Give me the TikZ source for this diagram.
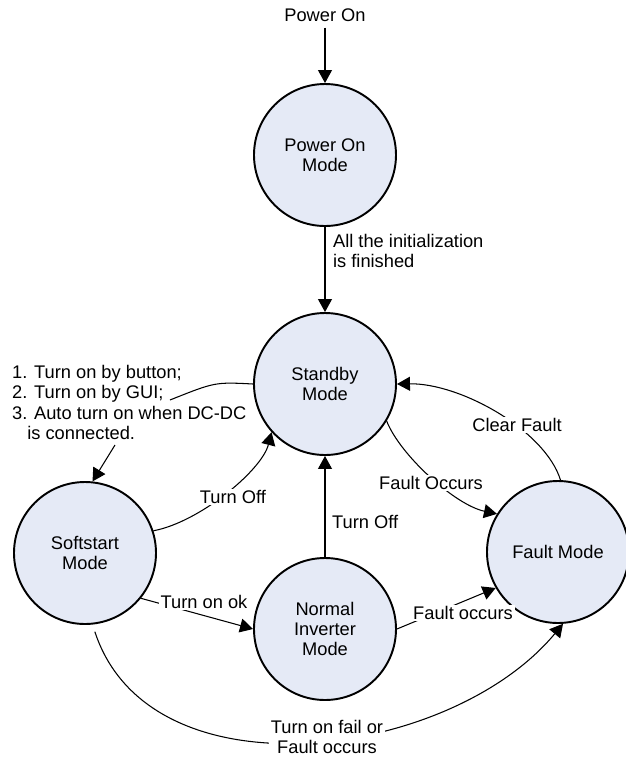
\documentclass[tikz,border=0pt]{standalone}
\usepackage{fontspec}
\setmainfont{Liberation Sans}
\usetikzlibrary{arrows.meta}
\definecolor{modefill}{RGB}{229,234,246}

\begin{document}
\begin{tikzpicture}[align=center, font=\fontsize{10.4}{11.5}\selectfont,
    >={Triangle[length=2.6mm,width=2.8mm]},
    mode/.style={draw, circle, line width=1.1pt, fill=modefill, minimum size=2.84cm, inner sep=0},
    trans/.style={->, line width=0.6pt},
    lbl/.style={fill=white, inner sep=1pt},
    note/.style={inner sep=1pt, align=left}]
      \useasboundingbox (0,0) rectangle (12.52,-15.14);

      \node (pwron) at (6.5,-0.3) {Power On};
      \node[mode] (PO) at (6.5,-3.1) {Power On\\ Mode};
      \node[mode] (SB) at (6.5,-7.68) {Standby\\ Mode};
      \node[mode] (SS) at (1.7,-11.06) {Softstart\\ Mode};
      \node[mode] (NI) at (6.5,-12.58) {Normal\\ Inverter\\ Mode};
      \node[mode] (FM) at (11.16,-11.04) {Fault Mode};

      \coordinate (T1) at (3.4,-8.0);
      \coordinate (T2) at (2.3,-8.9);

      \draw[trans] (pwron) -- (PO);
      \draw[trans] (PO) -- (SB);
      \draw[line width=0.6pt] (SB.180) .. controls (4.3,-7.64) .. (T1);
      \draw[trans] (T2) -- (SS.84);
      \draw[trans] (SS.18) .. controls (4.0,-10.44) and (5.24,-9.4) .. (SB.222);
      \draw[trans] (NI) -- (SB);
      \draw[trans] (SB.-31) .. controls (8.0,-9.1) and (9.1,-10.1) .. (FM.148);
      \draw[trans] (FM.88) .. controls (10.9,-8.6) and (9.2,-7.66) .. (SB.0);
      \draw[trans] (SS.-39) -- (NI.180);
      \draw[trans] (NI.0) -- (FM.210);
      \draw[trans, shorten <=1.5mm] (SS.-84) .. controls (3.0,-16.0) and (9.0,-15.2) .. (FM.-86);

      \node[note, anchor=west] (init) at (6.62,-5.02) {All the initialization\\ is finished};
      \node[note, anchor=west] (turnon) at (0.2,-8.05) {1. Turn on by button;\\ 2. Turn on by GUI;\\ 3. Auto turn on when DC-DC\\ \phantom{3.}is connected.};
      \node[lbl] (off1) at (4.66,-9.94) {Turn Off};
      \node[note, anchor=west] (off2) at (6.6,-10.44) {Turn Off};
      \node[lbl] (occ1) at (8.62,-9.66) {Fault Occurs};
      \node[lbl] (clear) at (10.34,-8.5) {Clear Fault};
      \node[lbl] (ok) at (4.08,-12.04) {Turn on ok};
      \node[lbl] (occ2) at (9.26,-12.26) {Fault occurs};
      \node[lbl] (fail) at (6.54,-14.74) {Turn on fail or\\ Fault occurs};
    \end{tikzpicture}
\end{document}
